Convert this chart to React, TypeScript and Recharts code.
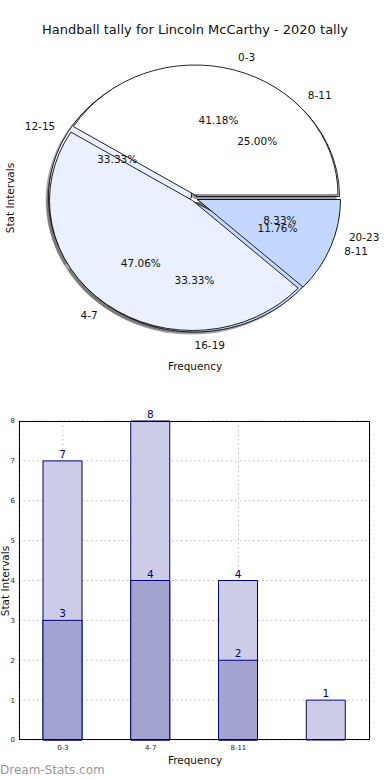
import React from "react";
import { Bar, BarChart, CartesianGrid, Cell, LabelList, Pie, PieChart, XAxis, YAxis } from "recharts";

// pie: two tallies drawn over each other
const outerNames = ["0-3", "4-7", "8-11"];
const outerCounts = [7, 8, 2];
const innerNames = ["8-11", "12-15", "16-19", "20-23"];
const innerCounts = [3, 4, 4, 1];

// bars
const barCategories = ["0-3", "4-7", "8-11", ""];
const barTotals = [7, 8, 4, 1];
const barSubset: Array<number | null> = [3, 4, 2, null];
const xTicks = ["0-3", "4-7", "8-11"];
const yTicks = [0, 1, 2, 3, 4, 5, 6, 7, 8];

const FONT = "'DejaVu Sans', sans-serif";
const S = 130 / 143; // matplotlib ellipse: vertical squash
const R = 143;
const RAD = Math.PI / 180;

const outerColors = ["#ffffff", "#eaf0ff", "#c4d7ff"];
const innerColors = ["#ffffff", "#eaf0ff", "#c4d7ff", "#ffffff"];
// exploded wedge centres (page px)
const outerCenters = [
  [195, 195],
  [192.5, 200.5],
  [197.5, 199.5]
];
const innerCenters = [
  [196.5, 196.5],
  [191.5, 197.5],
  [194.5, 202],
  [197, 199.5]
];
const SHADOW = [-2.9, 2.6];

const outerData = outerNames.map((name, i) => ({ name, value: outerCounts[i] }));
const innerData = innerNames.map((name, i) => ({ name, value: innerCounts[i] }));
const barData = barCategories.map((name, i) => ({ name, total: barTotals[i], subset: barSubset[i] }));

const sy = (y: number) => y / S;

function makeLabel(only: number) {
  return (props: any) => {
    const { cx, cy, midAngle, percent, index, name } = props;
    if (index !== only) return null;
    const c = Math.cos(-midAngle * RAD);
    const s = Math.sin(-midAngle * RAD);
    const lx = cx + R * 1.1 * c;
    const ly = cy + R * 1.1 * s;
    const px = cx + R * 0.6 * c;
    const py = cy + R * 0.6 * s;
    const inv = `scale(1,${1 / S})`;
    return (
      <g key={`l-${index}`}>
        <g transform={`translate(${lx},${ly}) ${inv}`}>
          <text x={0} y={0} textAnchor={c >= -1e-6 ? "start" : "end"} dominantBaseline="central" fontSize={10.5} fill="#111" fontFamily={FONT}>
            {name}
          </text>
        </g>
        <g transform={`translate(${px},${py}) ${inv}`}>
          <text x={0} y={0} textAnchor="middle" dominantBaseline="central" fontSize={10.5} fill="#111" fontFamily={FONT}>
            {(percent * 100).toFixed(2)}%
          </text>
        </g>
      </g>
    );
  };
}

function wedges(data: { name: string; value: number }[], centers: number[][], colors: string[], prefix: string, shadow: boolean) {
  return data.map((_, k) => (
    <Pie
      key={`${prefix}-${k}`}
      data={data}
      dataKey="value"
      nameKey="name"
      cx={centers[k][0] + (shadow ? SHADOW[0] : 0)}
      cy={sy(centers[k][1] + (shadow ? SHADOW[1] : 0))}
      outerRadius={R}
      startAngle={0}
      endAngle={360}
      isAnimationActive={false}
      labelLine={false}
      label={shadow ? false : makeLabel(k)}
    >
      {data.map((d, i) =>
        shadow ? (
          <Cell key={d.name} fill={i === k ? "#4d4d4d" : "none"} fillOpacity={0.5} stroke="none" />
        ) : (
          <Cell key={d.name} fill={i === k ? colors[i] : "none"} stroke={i === k ? "#000" : "none"} strokeWidth={0.9} />
        )
      )}
    </Pie>
  ));
}

function PieBlock() {
  return (
    <div style={{ position: "absolute", left: 0, top: 0, width: 390, height: 440, transform: `scaleY(${S})`, transformOrigin: "0 0" }}>
      <PieChart width={390} height={440} margin={{ top: 0, right: 0, bottom: 0, left: 0 }}>
        {wedges(innerData, innerCenters, innerColors, "ish", true)}
        {wedges(outerData, outerCenters, outerColors, "osh", true)}
        {wedges(innerData, innerCenters, innerColors, "iw", false)}
        {wedges(outerData, outerCenters, outerColors, "ow", false)}
      </PieChart>
    </div>
  );
}

const textStyle: React.CSSProperties = { position: "absolute", fontFamily: FONT, color: "#111", whiteSpace: "nowrap" };

export default function App() {
  return (
    <div style={{ position: "relative", width: 390, height: 780, background: "#fff", overflow: "hidden" }}>
      <style>{"body{margin:0}"}</style>
      <div style={{ ...textStyle, left: 0, width: 390, top: 22, textAlign: "center", fontSize: 13 }}>
        Handball tally for Lincoln McCarthy - 2020 tally
      </div>
      <PieBlock />
      <div style={{ ...textStyle, left: 10, top: 198, fontSize: 10.5, transform: "translate(-50%,-50%) rotate(-90deg)" }}>Stat Intervals</div>
      <div style={{ ...textStyle, left: 0, width: 390, top: 360, textAlign: "center", fontSize: 10.5 }}>Frequency</div>

      <div style={{ position: "absolute", left: 0, top: 400 }}>
        <BarChart width={390} height={380} data={barData} margin={{ top: 21, right: 20, bottom: 26, left: 0 }} barSize={39} barGap={-39}>
          <CartesianGrid stroke="#bbb" strokeDasharray="1.5 3" />
          <XAxis dataKey="name" ticks={xTicks} height={14} tickLine={false} axisLine={false} tickSize={3} tickMargin={2} tick={{ fontSize: 7, fill: "#222", fontFamily: FONT }} interval={0} />
          <YAxis type="number" domain={[0, 8]} ticks={yTicks} width={19} tickLine={false} axisLine={false} tickSize={2} tickMargin={2} tick={{ fontSize: 7, fill: "#222", fontFamily: FONT }} />
          <Bar dataKey="total" fill="#ccccE6" stroke="#000080" strokeWidth={1} isAnimationActive={false}>
            <LabelList dataKey="total" position="top" offset={3} fill="#000080" fontSize={10.5} fontFamily={FONT} />
          </Bar>
          <Bar dataKey="subset" fill="#a3a3d1" stroke="#000080" strokeWidth={1} isAnimationActive={false}>
            <LabelList dataKey="subset" position="top" offset={3} fill="#000080" fontSize={10.5} fontFamily={FONT} formatter={(v: any) => (v == null ? "" : v)} />
          </Bar>
        </BarChart>
      </div>
      <div style={{ position: "absolute", left: 19, top: 421, width: 351, height: 319, border: "1px solid #000", boxSizing: "border-box", pointerEvents: "none" }} />
      <div style={{ ...textStyle, left: 5, top: 581, fontSize: 10.5, transform: "translate(-50%,-50%) rotate(-90deg)" }}>Stat Intervals</div>
      <div style={{ ...textStyle, left: 0, width: 390, top: 754, textAlign: "center", fontSize: 10.5 }}>Frequency</div>
      <div style={{ ...textStyle, left: 0, top: 763, fontSize: 12, color: "#999" }}>Dream-Stats.com</div>
    </div>
  );
}
